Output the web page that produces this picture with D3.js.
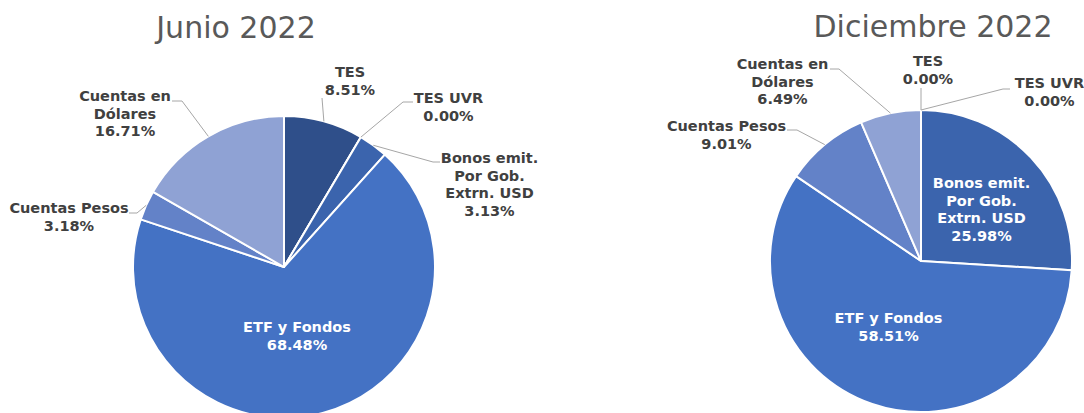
<!DOCTYPE html>
<html>
<head>
<meta charset="utf-8">
<script src="https://cdn.jsdelivr.net/npm/d3@7"></script>
<style>
    body { margin: 0; background: #fff; }
    svg { display: block; font-family: "DejaVu Sans", Verdana, sans-serif; }
</style>
</head>
<body>
<div id="chart"></div>
<script>
// Categories and their values (percent of portfolio)
const categories = ['TES', 'TES UVR', 'Bonos emit. Por Gob. Extrn. USD', 'ETF y Fondos', 'Cuentas Pesos', 'Cuentas en Dólares'];
const labelLines = [['TES'], ['TES UVR'], ['Bonos emit.', 'Por Gob.', 'Extrn. USD'], ['ETF y Fondos'], ['Cuentas Pesos'], ['Cuentas en', 'Dólares']];
const junio2022 = [8.51, 0.00, 3.13, 68.48, 3.18, 16.71];
const diciembre2022 = [0.00, 0.00, 25.98, 58.51, 9.01, 6.49];
const titles = ['Junio 2022', 'Diciembre 2022'];

const colors = ['#2F4F8A', '#35599F', '#3B64AD', '#4472C4', '#6382C8', '#8FA2D4'];

// Label placement per slice, relative to pie center:
// pos = first-line baseline, leader = points from label towards slice edge, inside = white label
const layouts = [
    {
        cx: 284, cy: 267, titleX: 236, titleY: 38,
        labels: [
            { pos: [66, -190], leader: [[38, -169]] },
            { pos: [164.5, -164], leader: [[129, -165], [119, -165]] },
            { pos: [205.5, -104], leader: [[156, -105], [149, -105]] },
            { pos: [13, 65], inside: true },
            { pos: [-215, -54], leader: [[-155, -54], [-147, -54]] },
            { pos: [-159, -166], leader: [[-112, -166], [-102, -166]] }
        ]
    },
    {
        cx: 921, cy: 261, titleX: 933, titleY: 37,
        labels: [
            { pos: [7, -195], leader: [[0, -173]] },
            { pos: [128.5, -173], leader: [[89, -172], [82, -172]] },
            { pos: [60.5, -73], inside: true },
            { pos: [-32.5, 62], inside: true },
            { pos: [-194.5, -130], leader: [[-134, -131], [-124, -131]] },
            { pos: [-138.5, -192], leader: [[-91, -192], [-82, -192]] }
        ]
    }
];

const radius = 151;
const lineHeight = 17.5;
const fmt = d => d3.format('.2f')(d) + '%';

const svg = d3.select('#chart')
    .append('svg')
    .attr('width', 1084)
    .attr('height', 413);

const pie = d3.pie().sort(null).value(d => d.value);
const arc = d3.arc().innerRadius(0).outerRadius(radius);

function drawPie(values, layout, title) {
    const data = values.map((v, i) => ({ name: categories[i], value: v, idx: i }));
    const arcs = pie(data);

    svg.append('text')
        .attr('x', layout.titleX)
        .attr('y', layout.titleY)
        .attr('text-anchor', 'middle')
        .attr('font-size', 30)
        .attr('fill', '#595959')
        .text(title);

    const g = svg.append('g')
        .attr('transform', `translate(${layout.cx},${layout.cy})`);

    g.selectAll('path.slice')
        .data(arcs)
        .enter()
        .append('path')
        .attr('class', 'slice')
        .attr('d', arc)
        .attr('fill', d => colors[d.data.idx])
        .attr('stroke', '#fff')
        .attr('stroke-width', 2)
        .attr('stroke-linejoin', 'round');

    // Leader lines: label point(s) -> slice edge at mid angle
    arcs.forEach(d => {
        const lab = layout.labels[d.data.idx];
        if (lab.inside) return;
        const mid = (d.startAngle + d.endAngle) / 2;
        const edge = [Math.sin(mid) * radius, -Math.cos(mid) * radius];
        g.append('path')
            .attr('d', d3.line()([...lab.leader, edge]))
            .attr('fill', 'none')
            .attr('stroke', '#A6A6A6')
            .attr('stroke-width', 1);
    });

    // Labels
    arcs.forEach(d => {
        const lab = layout.labels[d.data.idx];
        const lines = [...labelLines[d.data.idx], fmt(d.data.value)];
        const t = g.append('text')
            .attr('text-anchor', 'middle')
            .attr('font-size', 14.5)
            .attr('font-weight', 'bold')
            .attr('fill', lab.inside ? '#fff' : '#404040');
        lines.forEach((line, k) => {
            t.append('tspan')
                .attr('x', lab.pos[0])
                .attr('y', lab.pos[1] + k * lineHeight)
                .text(line);
        });
    });
}

drawPie(junio2022, layouts[0], titles[0]);
drawPie(diciembre2022, layouts[1], titles[1]);
</script>
</body>
</html>
